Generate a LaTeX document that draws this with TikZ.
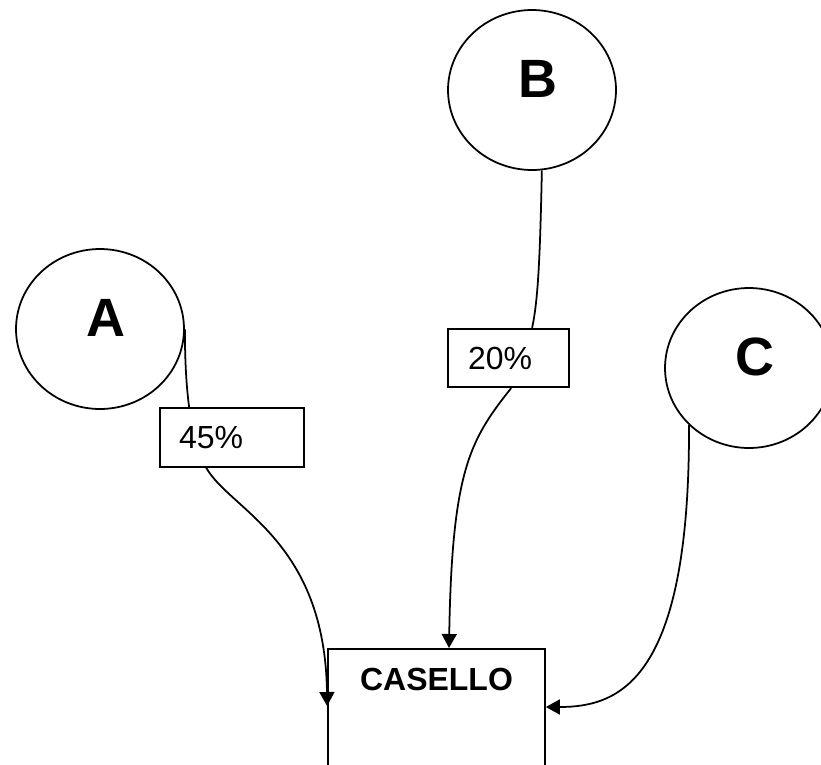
\documentclass[tikz,border=0pt]{standalone}
\usepackage{fontspec}
\setmainfont{Liberation Sans}
\usetikzlibrary{shapes.geometric,arrows.meta}

\begin{document}
\begin{tikzpicture}[
        x=0.02cm, y=-0.02cm,
        every node/.style={font=\fontsize{18.2}{22}\selectfont},
        place/.style={ellipse, draw, line width=1pt, minimum width=3.36cm, minimum height=3.2cm, inner sep=0pt, fill=white, text depth=0.44cm, execute at begin node=\hspace*{0.24cm}, font=\fontsize{30.7}{36}\selectfont\bfseries},
        pct/.style={rectangle, draw, line width=1pt, fill=white, align=left, minimum height=1.17cm},
        gate/.style={rectangle, draw, line width=1pt, fill=white, minimum width=4.34cm, inner xsep=0pt, inner ysep=0.38cm, text height=0.46cm, text depth=2.2cm, font=\fontsize{18.2}{22}\selectfont\bfseries},
        flow/.style={line width=1pt, -{Triangle[length=0.28cm, width=0.3cm]}},
        seg/.style={line width=1pt}
    ]

    \useasboundingbox (0,0) rectangle (821,764);
    \clip (0,0) rectangle (821,764);

    % Nodes
    \node[place] (a) at (100,329) {A};
    \node[place] (b) at (532,90) {B};
    \node[place] (c) at (749,368) {C};

    \node[pct, text width=2.12cm, inner xsep=0.38cm] (p45) at (232,437.5) {45\%};
    \node[pct, text width=1.62cm, inner xsep=0.4cm] (p20) at (508.5,358) {20\%};

    \node[gate, anchor=north] (casello) at (436.5,648) {CASELLO};

    % A -> CASELLO (45%)
    \draw[seg] (a.east) .. controls (185,370) and (187,390) .. ([xshift=0.6cm]p45.north west);
    \draw[flow] ([xshift=0.94cm]p45.south west) .. controls (230,510) and (325,540) .. ([yshift=-1.16cm]casello.north west);

    % B -> CASELLO (20%)
    \draw[seg] (b.-83) .. controls (540,260) and (538,300) .. ([xshift=1.7cm]p20.north west);
    \draw[flow] ([xshift=1.28cm]p20.south west) .. controls (470,440) and (452,470) .. ([xshift=0.25cm]casello.north);

    % C -> CASELLO
    \draw[flow] (c.south west) .. controls (690,680) and (620,707) .. ([yshift=-1.18cm]casello.north east);

\end{tikzpicture}
\end{document}
